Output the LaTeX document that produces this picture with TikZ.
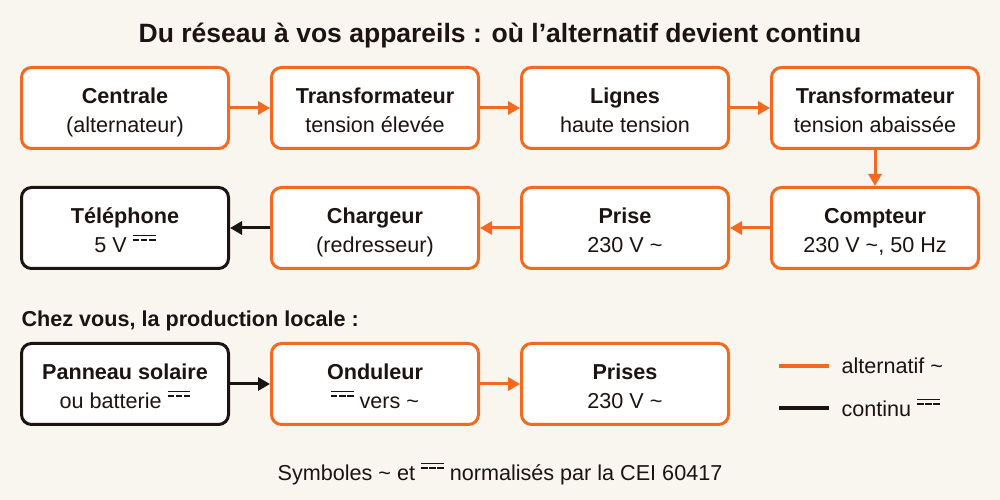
\documentclass[tikz,border=0pt]{standalone}
\usepackage{fontspec}
\setmainfont{Liberation Sans}
\usetikzlibrary{arrows.meta}
\definecolor{acor}{HTML}{F26A1F}
\definecolor{dcblk}{HTML}{1C1412}
\definecolor{bgc}{HTML}{F9F5EF}
\newcommand{\dcsym}{\leavevmode\rlap{\rule[0.76em]{1.05em}{0.075em}}\rule[0.56em]{0.3em}{0.075em}\hspace{0.075em}\rule[0.56em]{0.3em}{0.075em}\hspace{0.075em}\rule[0.56em]{0.3em}{0.075em}}
\newcommand{\tld}{\symbol{"7E}}
\newcommand{\bx}[2]{\rule{0pt}{26.4pt}\textbf{#1}\\#2\rule[-6pt]{0pt}{6pt}}
\tikzset{
  box/.style={draw=#1, rounded corners=10pt, line width=3pt, fill=white,
    minimum width=207pt, minimum height=81pt, align=center, inner sep=0pt,
    font=\fontsize{21.6}{29}\selectfont, text=dcblk},
  acarrow/.style={draw=acor, line width=3pt, -{Triangle[length=12pt,width=13pt]}},
  dcarrow/.style={draw=dcblk, line width=3pt, -{Triangle[length=12pt,width=13pt]}},
}
\begin{document}
\begin{tikzpicture}[x=1pt,y=1pt]
\path[fill=bgc] (0,0) rectangle (1000,500);
\node[font=\bfseries\fontsize{26.5}{30}\selectfont, text=dcblk] (title) at (500,464) {Du réseau à vos appareils : où l’alternatif devient continu};
% row 1
\node[box=acor] (centrale) at (125,392) {\bx{Centrale}{(alternateur)}};
\node[box=acor] (trafo1) at (375,392) {\bx{Transformateur}{tension élevée}};
\node[box=acor] (lignes) at (625,392) {\bx{Lignes}{haute tension}};
\node[box=acor] (trafo2) at (875,392) {\bx{Transformateur}{tension abaissée}};
% row 2
\node[box=dcblk] (tel) at (125,272) {\bx{Téléphone}{5 V \dcsym}};
\node[box=acor] (chargeur) at (375,272) {\bx{Chargeur}{(redresseur)}};
\node[box=acor] (prise) at (625,272) {\bx{Prise}{230 V \tld}};
\node[box=acor] (compteur) at (875,272) {\bx{Compteur}{230 V \tld, 50 Hz}};
% row 3
\node[anchor=west, font=\bfseries\fontsize{21.6}{25}\selectfont, text=dcblk] (chez) at (18,179) {Chez vous, la production locale :};
\node[box=dcblk] (panneau) at (125,116) {\bx{Panneau solaire}{ou batterie \dcsym}};
\node[box=acor] (onduleur) at (375,116) {\bx{Onduleur}{\dcsym\ vers \tld}};
\node[box=acor] (prises) at (625,116) {\bx{Prises}{230 V \tld}};
% arrows
\draw[acarrow] (centrale) -- (trafo1);
\draw[acarrow] (trafo1) -- (lignes);
\draw[acarrow] (lignes) -- (trafo2);
\draw[acarrow] (trafo2) -- (compteur);
\draw[acarrow] (compteur) -- (prise);
\draw[acarrow] (prise) -- (chargeur);
\draw[dcarrow] (chargeur) -- (tel);
\draw[dcarrow] (panneau) -- (onduleur);
\draw[acarrow] (onduleur) -- (prises);
% legend
\coordinate (la1) at (779,134);
\coordinate (la2) at (829,134);
\coordinate (ld1) at (779,92);
\coordinate (ld2) at (829,92);
\draw[acor, line width=4pt] (la1) -- (la2);
\draw[dcblk, line width=4pt] (ld1) -- (ld2);
\node[anchor=west, font=\fontsize{21.6}{25}\selectfont, text=dcblk] (lac) at (838,134) {alternatif \tld};
\node[anchor=west, font=\fontsize{21.6}{25}\selectfont, text=dcblk] (ldc) at (838,92) {continu \dcsym};
% footer
\node[font=\fontsize{21.6}{25}\selectfont, text=dcblk] (foot) at (500,26) {Symboles \tld\ et \dcsym\ normalisés par la CEI 60417};
\end{tikzpicture}
\end{document}
